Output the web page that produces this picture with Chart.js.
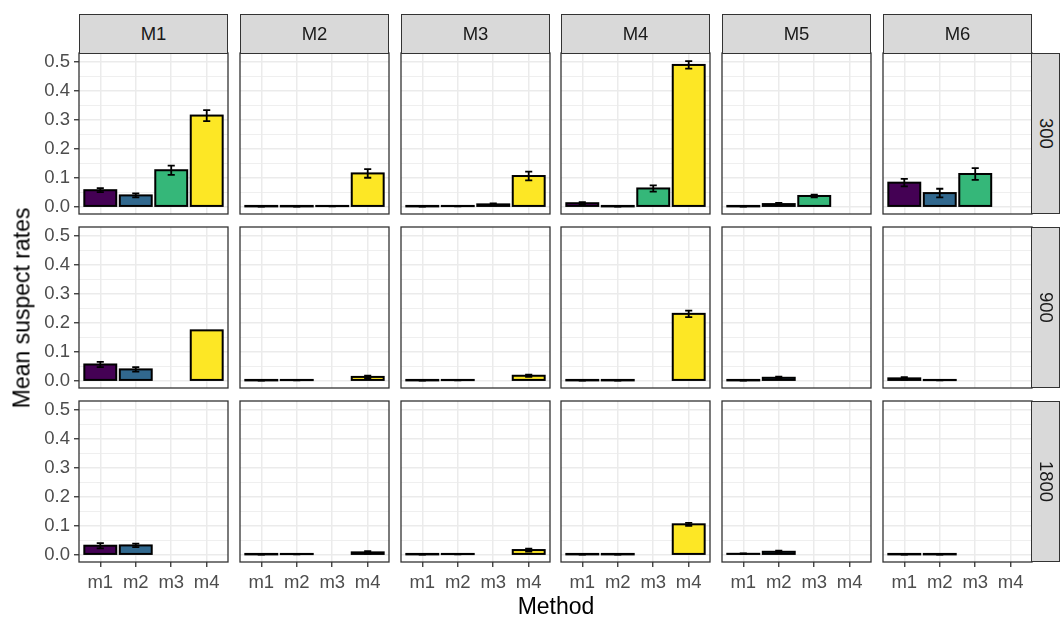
<!DOCTYPE html>
<html>
<head>
<meta charset="utf-8">
<script src="https://cdn.jsdelivr.net/npm/chart.js@4.4.1/dist/chart.umd.min.js"></script>
<style>
  html, body { margin: 0; padding: 0; background: #fff; }
  body { width: 1060px; height: 619px; position: relative; overflow: hidden;
         font-family: "Liberation Sans", Arial, sans-serif; }
  .box { position: absolute; }
  .strip { position: absolute; box-sizing: border-box; background: #D9D9D9;
           border: 1.3px solid #333333; color: #1A1A1A; font-size: 18.5px;
           display: flex; align-items: center; justify-content: center; }
  .stripR { writing-mode: vertical-rl; }
  .title { position: absolute; color: #000; font-size: 23px; white-space: nowrap; }
</style>
</head>
<body>
<script>
// ---- data ----
const methods = ['m1', 'm2', 'm3', 'm4'];
const models = ['M1', 'M2', 'M3', 'M4', 'M5', 'M6'];
const sizes = ['300', '900', '1800'];
const methodColors = ['#440154', '#31688E', '#35B779', '#FDE725'];
const yTickValues = [0, 0.05, 0.1, 0.15, 0.2, 0.25, 0.3, 0.35, 0.4, 0.45, 0.5];

// mean suspect rates per model (rows of m1..m4), sample size 300
const rates300 = [
  [0.057, 0.039, 0.126, 0.315],
  [0.001, 0.001, 0.002, 0.115],
  [0.001, 0.002, 0.008, 0.106],
  [0.012, 0.001, 0.063, 0.490],
  [0.001, 0.009, 0.037, null],
  [0.083, 0.047, 0.113, null]
];
const err300 = [
  [0.007, 0.007, 0.016, 0.019],
  [0.001, 0.001, 0.001, 0.015],
  [0.001, 0.001, 0.003, 0.015],
  [0.004, 0.001, 0.011, 0.013],
  [0.001, 0.004, 0.005, null],
  [0.013, 0.015, 0.020, null]
];
// sample size 900
const rates900 = [
  [0.056, 0.039, null, 0.174],
  [0.001, 0.002, null, 0.013],
  [0.001, 0.002, null, 0.017],
  [0.001, 0.001, null, 0.231],
  [0.001, 0.010, null, null],
  [0.008, 0.002, null, null]
];
const err900 = [
  [0.009, 0.008, null, null],
  [0.001, 0.001, null, 0.004],
  [0.001, 0.001, null, 0.004],
  [0.001, 0.001, null, 0.011],
  [0.001, 0.004, null, null],
  [0.004, 0.001, null, null]
];
// sample size 1800
const rates1800 = [
  [0.031, 0.032, null, null],
  [0.001, 0.002, null, 0.008],
  [0.001, 0.002, null, 0.016],
  [0.001, 0.001, null, 0.105],
  [0.003, 0.010, null, null],
  [0.001, 0.001, null, null]
];
const err1800 = [
  [0.009, 0.006, null, null],
  [0.001, 0.001, null, 0.004],
  [0.001, 0.001, null, 0.005],
  [0.001, 0.001, null, 0.005],
  [0.001, 0.004, null, null],
  [0.001, 0.001, null, null]
];

const ratesBySize = [rates300, rates900, rates1800];
const errBySize = [err300, err900, err1800];

// ---- layout ----
const panelX = [79, 240, 401, 561, 722, 883];
const panelY = [53, 227, 401];
const PW = 149, PH = 161;
const Y_AXIS_W = 79, X_AXIS_H = 45, PAD = 3;
const FONT = '"Liberation Sans", Arial, sans-serif';

function isMajor(v) { return Math.abs(Math.round(v * 100) % 10) === 0; }

const facetPlugin = {
  id: 'facet',
  afterDatasetsDraw(chart) {
    const ctx = chart.ctx;
    const xs = chart.scales.x, ys = chart.scales.y;
    const errs = chart.options.plugins.facet.errors;
    const meta = chart.getDatasetMeta(0);
    ctx.save();
    // bar outlines
    ctx.strokeStyle = '#000';
    ctx.lineWidth = 2;
    meta.data.forEach((el, i) => {
      const raw = chart.data.datasets[0].data[i];
      if (raw.y === null) return;
      const p = el.getProps(['x', 'y', 'base', 'width'], true);
      ctx.strokeRect(p.x - p.width / 2, Math.min(p.y, p.base), p.width, Math.abs(p.base - p.y));
    });
    // error bars
    const cap = xs.getPixelForValue(1.1) - xs.getPixelForValue(1);
    ctx.lineWidth = 1.8;
    meta.data.forEach((el, i) => {
      const raw = chart.data.datasets[0].data[i];
      const e = errs[i];
      if (raw.y === null || e === null) return;
      const cx = xs.getPixelForValue(raw.x);
      const yt = ys.getPixelForValue(raw.y + e);
      const yb = ys.getPixelForValue(raw.y - e);
      ctx.beginPath();
      ctx.moveTo(cx - cap, yt); ctx.lineTo(cx + cap, yt);
      ctx.moveTo(cx, yt); ctx.lineTo(cx, yb);
      ctx.moveTo(cx - cap, yb); ctx.lineTo(cx + cap, yb);
      ctx.stroke();
    });
    // panel border
    const a = chart.chartArea;
    ctx.strokeStyle = '#333333';
    ctx.lineWidth = 1.3;
    ctx.strokeRect(a.left, a.top, a.right - a.left, a.bottom - a.top);
    ctx.restore();
  }
};

function zeroPad(scale) {
  scale.paddingTop = 0; scale.paddingBottom = 0;
  scale.paddingLeft = 0; scale.paddingRight = 0;
}

for (let r = 0; r < sizes.length; r++) {
  for (let c = 0; c < models.length; c++) {
    const firstCol = c === 0, lastRow = r === sizes.length - 1;
    const padL = firstCol ? Y_AXIS_W : PAD;
    const padB = lastRow ? X_AXIS_H : PAD;
    const w = PW + padL + PAD, h = PH + PAD + padB;
    const div = document.createElement('div');
    div.className = 'box';
    div.style.left = (panelX[c] - padL) + 'px';
    div.style.top = (panelY[r] - PAD) + 'px';
    div.style.width = w + 'px';
    div.style.height = h + 'px';
    const cv = document.createElement('canvas');
    cv.width = w; cv.height = h;
    cv.style.width = w + 'px'; cv.style.height = h + 'px';
    div.appendChild(cv);
    document.body.appendChild(div);

    const vals = ratesBySize[r][c];
    const data = methods.map((m, i) => ({ x: i + 1, y: vals[i] }));

    new Chart(cv, {
      type: 'bar',
      data: {
        datasets: [{
          data: data,
          backgroundColor: methods.map((m, i) => methodColors[i]),
          borderWidth: 0,
          categoryPercentage: 1,
          barPercentage: 0.9
        }]
      },
      options: {
        responsive: false,
        animation: false,
        devicePixelRatio: 1,
        layout: { padding: { left: firstCol ? 0 : PAD, right: PAD, top: PAD, bottom: lastRow ? 0 : PAD } },
        plugins: {
          legend: { display: false },
          tooltip: { enabled: false },
          facet: { errors: errBySize[r][c] }
        },
        scales: {
          x: {
            type: 'linear',
            offset: false,
            min: 0.4, max: 4.6,
            afterBuildTicks: s => { s.ticks = methods.map((m, i) => ({ value: i + 1 })); },
            afterFit: s => { s.height = lastRow ? X_AXIS_H : 0; zeroPad(s); },
            border: { display: false },
            grid: {
              offset: false,
              color: '#EBEBEB', lineWidth: 1.5,
              drawTicks: lastRow, tickLength: 5, tickColor: '#333333', tickWidth: 1.3
            },
            ticks: {
              display: lastRow, autoSkip: false, maxRotation: 0, padding: 5,
              color: '#4D4D4D', font: { family: FONT, size: 18.5 },
              callback: v => methods[Math.round(v) - 1]
            }
          },
          y: {
            type: 'linear',
            min: -0.0253, max: 0.5313,
            afterBuildTicks: s => { s.ticks = yTickValues.map(v => ({ value: v })); },
            afterFit: s => { s.width = firstCol ? Y_AXIS_W : 0; zeroPad(s); },
            border: { display: false },
            grid: {
              color: '#EBEBEB',
              lineWidth: ctx => (ctx.tick && isMajor(ctx.tick.value)) ? 1.5 : 0.8,
              drawTicks: firstCol, tickLength: 5, tickWidth: 1.3,
              tickColor: ctx => (ctx.tick && isMajor(ctx.tick.value)) ? '#333333' : 'rgba(0,0,0,0)'
            },
            ticks: {
              display: firstCol, autoSkip: false, padding: 4,
              color: '#4D4D4D', font: { family: FONT, size: 18.5 },
              callback: v => isMajor(v) ? v.toFixed(1) : ''
            }
          }
        }
      },
      plugins: [facetPlugin]
    });
  }
}

// strips
models.forEach((m, c) => {
  const s = document.createElement('div');
  s.className = 'strip';
  s.style.left = panelX[c] + 'px'; s.style.top = '14px';
  s.style.width = PW + 'px'; s.style.height = '40px';
  s.textContent = m;
  document.body.appendChild(s);
});
sizes.forEach((n, r) => {
  const s = document.createElement('div');
  s.className = 'strip stripR';
  s.style.left = (panelX[5] + PW - 1) + 'px'; s.style.top = panelY[r] + 'px';
  s.style.width = '29px'; s.style.height = PH + 'px';
  s.textContent = n;
  document.body.appendChild(s);
});

// axis titles
const yt = document.createElement('div');
yt.className = 'title';
yt.textContent = 'Mean suspect rates';
yt.style.left = '22px'; yt.style.top = '308px';
yt.style.transform = 'translate(-50%, -50%) rotate(-90deg)';
document.body.appendChild(yt);

const xt = document.createElement('div');
xt.className = 'title';
xt.textContent = 'Method';
xt.style.left = '556px'; xt.style.top = '606px';
xt.style.transform = 'translate(-50%, -50%)';
document.body.appendChild(xt);
</script>
</body>
</html>
